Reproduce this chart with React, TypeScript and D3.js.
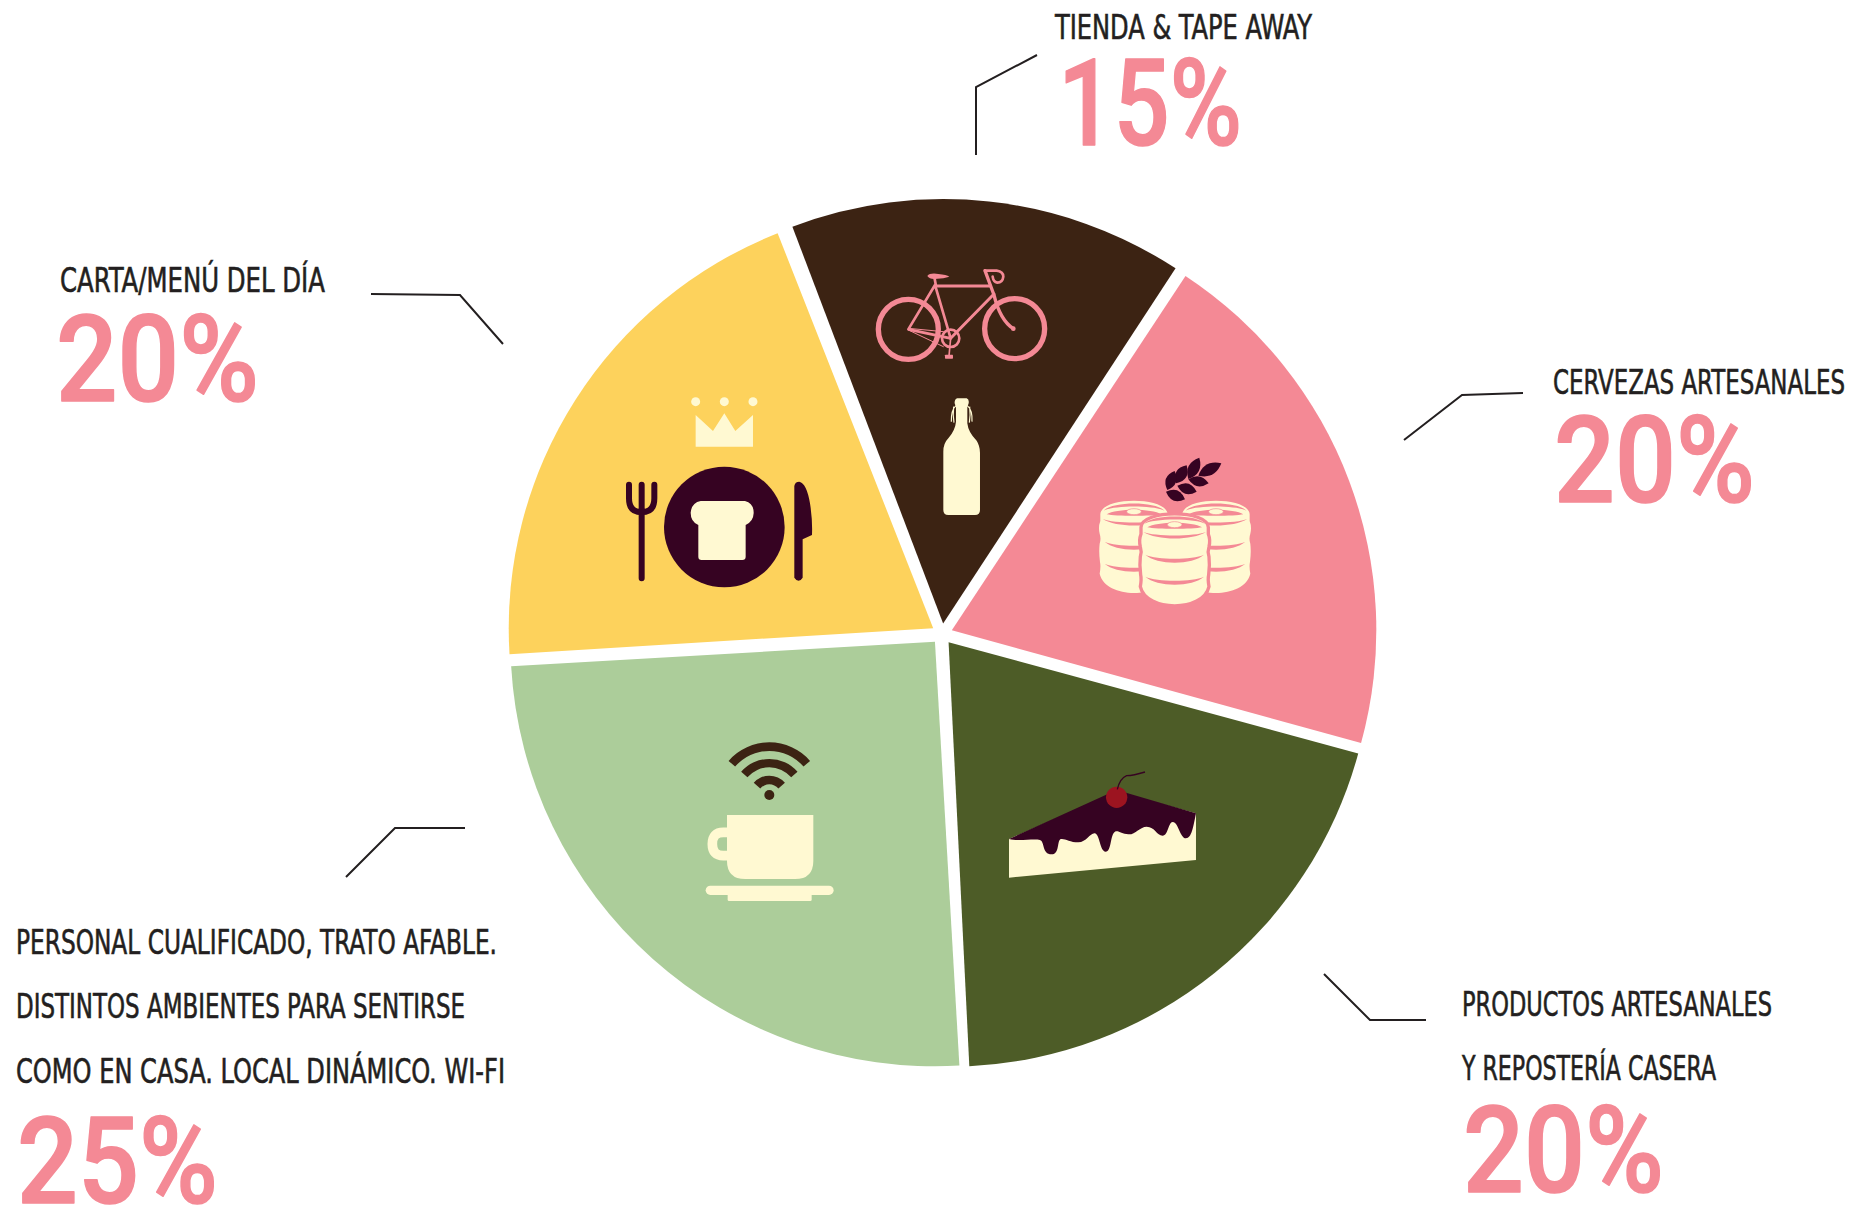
import React from "react";
import * as d3 from "d3";

// Share of what the venue offers, clockwise from the top slice
const sliceNames = ["Tienda", "Cervezas", "Productos", "Personal", "Carta"];
const sliceValues = [15, 20, 20, 25, 20];
const sliceColors = ["#3c2313", "#f48995", "#4d5c27", "#accd9a", "#fdd25c"];

const tiendaLines = ["TIENDA & TAPE AWAY"];
const cervezasLines = ["CERVEZAS ARTESANALES"];
const productosLines = ["PRODUCTOS ARTESANALES", "Y REPOSTERÍA CASERA"];
const personalLines = [
  "PERSONAL CUALIFICADO, TRATO AFABLE.",
  "DISTINTOS AMBIENTES PARA SENTIRSE",
  "COMO EN CASA. LOCAL DINÁMICO. WI-FI",
];
const cartaLines = ["CARTA/MENÚ DEL DÍA"];
const calloutLines = [tiendaLines, cervezasLines, productosLines, personalLines, cartaLines];

const WIDTH = 1852;
const HEIGHT = 1206;
const CX = 942;
const CY = 634;
const RADIUS = 424.5;
const EXPLODE = 10.5;
const START_DEG = -20.8;
// The hand-placed wedges sit a fraction of a degree off the exact layout
const sliceTilt = [0, 0.2, 0, -0.5, -0.7];

const INK = "#231f20";
const PINK = "#f48995";
const CREAM = "#fff9d2";
const PLUM = "#360322";
const BROWN = "#3c2313";
const CHERRY = "#9c1420";

type Callout = {
  x: number;
  baselines: number[];
  widths: number[];
  pctX: number;
  pctBase: number;
  pctWidth: number;
  leader: [number, number][];
};

const callouts: Callout[] = [
  { x: 1055, baselines: [39], widths: [257], pctX: 1058, pctBase: 145, pctWidth: 184, leader: [[1037, 55], [976, 87], [976, 155]] },
  { x: 1553, baselines: [394], widths: [292], pctX: 1554, pctBase: 502, pctWidth: 201, leader: [[1523, 393], [1462, 395], [1404, 440]] },
  { x: 1462, baselines: [1016, 1080], widths: [310, 254], pctX: 1463, pctBase: 1192, pctWidth: 201, leader: [[1324, 974], [1370, 1020], [1426, 1020]] },
  { x: 16, baselines: [954, 1018, 1083], widths: [481, 449, 489], pctX: 17, pctBase: 1203, pctWidth: 201, leader: [[346, 877], [395, 828], [465, 828]] },
  { x: 60, baselines: [292], widths: [265], pctX: 56, pctBase: 401, pctWidth: 203, leader: [[371, 294], [460, 295], [503, 344]] },
];

const leaderPath = d3.line();
const deg = Math.PI / 180;

const pieLayout = d3
  .pie<number>()
  .sort(null)
  .startAngle(START_DEG * deg)
  .endAngle((START_DEG + 360) * deg);
const wedge = d3.arc<d3.PieArcDatum<number>>().innerRadius(0).outerRadius(RADIUS);
const wifiBand = d3.arc();

function Bike() {
  return (
    <g transform="translate(850,230) scale(0.3333)" fill="none" stroke={PINK} strokeLinecap="round" strokeLinejoin="round">
      <circle cx={175} cy={298} r={90} strokeWidth={16} />
      <circle cx={494} cy={296} r={90} strokeWidth={16} />
      <path strokeWidth={8} d="M175,298 L255,165 L302,325 Z" />
      <path strokeWidth={9} d="M258,168 L418,168 M432,192 L302,325" />
      <path strokeWidth={10} d="M405,122 L432,195 Q450,270 490,296" />
      <circle cx={490} cy={296} r={7} fill={PINK} stroke="none" />
      <path strokeWidth={8} d="M405,122 L440,122 Q460,125 460,140 Q458,158 442,158 Q430,156 428,140" />
      <path fill={PINK} stroke="none" d="M232,138 Q240,128 265,132 Q290,134 298,140 Q280,146 262,146 Q240,150 232,138 Z" />
      <path strokeWidth={8} d="M254,146 L258,168" />
      <circle cx={302} cy={325} r={26} strokeWidth={8} />
      <path strokeWidth={3} d="M175,295 L280,305 M175,300 L280,350" />
      <path strokeWidth={5} d="M302,325 L297,378" />
      <rect x={285} y={374} width={24} height={12} rx={2} fill={PINK} stroke="none" />
    </g>
  );
}

function Bottle() {
  return (
    <g transform="translate(850,230) scale(0.3333)">
      <path
        fill="none"
        stroke={CREAM}
        strokeWidth={3.5}
        d="M318,527 Q303,540 304,575 M352,527 Q368,540 366,575 M311,530 Q308,555 312,578 M359,530 Q362,555 358,578"
      />
      <path
        fill={CREAM}
        d="M322,505 L350,505 Q358,508 356,520 L352,532 L352,580 Q355,608 380,632 Q390,648 390,668 L390,840 Q390,855 375,855 L295,855 Q280,855 280,840 L280,665 Q280,640 295,625 Q316,600 318,575 L318,532 L314,520 Q313,508 322,505 Z"
      />
    </g>
  );
}

// A single keg, drawn with the front one's centre at x=344
function Keg({ dx, dy, halo }: { dx: number; dy: number; halo?: boolean }) {
  return (
    <g transform={`translate(${dx},${dy})`}>
      <path
        fill={CREAM}
        stroke={halo ? PINK : "none"}
        strokeWidth={halo ? 10 : 0}
        d="M243,262 C245,208 443,208 445,262 L445,282 Q452,300 447,320 Q442,335 447,350 Q450,375 446,405 Q443,418 447,440 C430,517 258,517 241,440 Q245,418 242,405 Q238,375 241,350 Q246,335 241,320 Q236,300 243,282 Z"
      />
      <path fill={PINK} d="M252,252 C275,222 413,222 436,252 C410,234 278,234 252,252 Z" />
      <path fill={PINK} d="M262,262 C290,244 398,244 426,262 C400,268 288,268 262,262 Z" />
      <ellipse cx={344} cy={254} rx={22} ry={9} fill={CREAM} stroke={PINK} strokeWidth={2} />
      <path fill={PINK} d="M250,276 C290,302 398,302 438,276 C405,290 283,290 250,276 Z" />
      <path fill={PINK} d="M256,344 C290,376 398,376 432,344 C398,360 290,360 256,344 Z" />
      <path fill={PINK} d="M256,410 C290,442 398,442 432,410 C398,426 290,426 256,410 Z" />
    </g>
  );
}

function leaf(x1: number, y1: number, x2: number, y2: number, w: number) {
  const mx = (x1 + x2) / 2;
  const my = (y1 + y2) / 2;
  const dx = x2 - x1;
  const dy = y2 - y1;
  const len = Math.hypot(dx, dy);
  const nx = (-dy / len) * w;
  const ny = (dx / len) * w;
  return `M${x1},${y1} Q${mx + nx},${my + ny} ${x2},${y2} Q${mx - nx},${my - ny} ${x1},${y1} Z`;
}

function Kegs() {
  const leaves = [
    [415, 107, 484, 70, 34],
    [385, 117, 418, 53, 34],
    [348, 130, 380, 76, 34],
    [322, 150, 344, 93, 32],
    [385, 118, 446, 130, 30],
    [352, 137, 410, 155, 32],
    [318, 155, 375, 178, 32],
  ];
  return (
    <g transform="translate(1060,440) scale(0.3333)">
      <Keg dx={-122} dy={-39} />
      <Keg dx={124} dy={-39} />
      <Keg dx={0} dy={0} halo />
      {leaves.map((l, i) => (
        <path key={i} fill={PLUM} d={leaf(l[0], l[1], l[2], l[3], l[4])} />
      ))}
    </g>
  );
}

function CakeSlice() {
  return (
    <g transform="translate(990,760) scale(0.3333)">
      <path fill={CREAM} d="M57,237 L380,95 L618,160 L618,300 L57,353 Z" />
      <path
        fill={PLUM}
        d="M57,237 L380,90 L618,160 C610,200 605,235 588,235 C570,235 565,185 548,186 C535,186 535,227 518,227 C500,227 495,200 470,200 C450,200 435,225 415,223 C395,222 385,210 375,215 C360,225 365,275 347,275 C330,275 330,225 315,220 C300,218 290,247 265,247 C240,247 225,235 213,237 C200,240 210,283 185,283 C155,283 165,245 150,240 C130,235 85,245 57,237 Z"
      />
      <circle cx={380} cy={112} r={32} fill={CHERRY} />
      <path fill="none" stroke={PLUM} strokeWidth={4} d="M382,88 Q390,55 410,47 Q430,47 465,36" />
    </g>
  );
}

function CupAndWifi() {
  const bands = [
    [136, 162],
    [87, 112],
    [36, 62],
  ];
  return (
    <g transform="translate(690,730) scale(0.3333)">
      <g transform="translate(238,199)" fill={BROWN}>
        {bands.map((b, i) => (
          <path
            key={i}
            d={wifiBand({ innerRadius: b[0], outerRadius: b[1], startAngle: -49 * deg, endAngle: 49 * deg }) as string}
          />
        ))}
        <circle cy={-4} r={15} />
      </g>
      <path fill="none" stroke={CREAM} strokeWidth={29} d="M111,307 L100,307 Q67,307 67,342 Q67,377 100,377 L111,377" />
      <path fill={CREAM} d="M111,255 L370,255 L370,392 Q370,447 315,447 L166,447 Q111,447 111,392 Z" />
      <rect x={47} y={467} width={384} height={28} rx={14} fill={CREAM} />
      <rect x={113} y={490} width={252} height={23} rx={4} fill={CREAM} />
    </g>
  );
}

function PlateSetting() {
  return (
    <g transform="translate(610,380) scale(0.3333)">
      {[257, 343, 429].map((x) => (
        <circle key={x} cx={x} cy={65} r={13.5} fill={CREAM} />
      ))}
      <path fill={CREAM} d="M257,105 L309,153 L343,100 L376,153 L429,105 L429,200 L257,200 Z" />
      <circle cx={343} cy={441} r={181} fill={PLUM} />
      <path
        fill={CREAM}
        d="M272,363 L405,363 Q432,370 431,400 Q430,425 407,435 L407,530 Q407,540 397,540 L275,540 Q265,540 265,530 L265,435 Q242,425 242,398 Q245,368 272,363 Z"
      />
      <path
        fill="none"
        stroke={PLUM}
        strokeWidth={18}
        strokeLinecap="round"
        d="M95,314 L95,595 M57,314 L57,355 Q57,397 95,397 Q133,397 133,355 L133,314"
      />
      <path
        fill={PLUM}
        d="M553,318 Q555,305 568,305 Q590,310 600,370 Q608,420 606,465 L578,478 L578,593 Q566,612 553,593 Z"
      />
    </g>
  );
}

export default function App() {
  const arcs = pieLayout(sliceValues);
  const labelFont = "'Liberation Sans Narrow', 'DejaVu Sans Condensed', sans-serif";
  return (
    <svg
      width={WIDTH}
      height={HEIGHT}
      viewBox={`0 0 ${WIDTH} ${HEIGHT}`}
      style={{ position: "absolute", left: 0, top: 0, display: "block", background: "#fff" }}
    >
      <g transform={`translate(${CX},${CY})`}>
        {arcs.map((a, i) => {
          const mid = (a.startAngle + a.endAngle) / 2;
          const ox = Math.sin(mid) * EXPLODE;
          const oy = -Math.cos(mid) * EXPLODE;
          return (
            <path
              key={sliceNames[i]}
              transform={`translate(${ox},${oy}) rotate(${sliceTilt[i]})`}
              d={wedge(a) as string}
              fill={sliceColors[i]}
            />
          );
        })}
      </g>

      <Bike />
      <Bottle />
      <Kegs />
      <CakeSlice />
      <CupAndWifi />
      <PlateSetting />

      {callouts.map((c, i) => (
        <g key={sliceNames[i]}>
          <path d={leaderPath(c.leader) as string} fill="none" stroke={INK} strokeWidth={2} />
          {calloutLines[i].map((line, j) => (
            <text
              key={j}
              x={c.x}
              y={c.baselines[j]}
              textLength={c.widths[j]}
              lengthAdjust="spacingAndGlyphs"
              fontFamily={labelFont}
              fontSize={34}
              fill={INK}
              stroke={INK}
              strokeWidth={0.6}
            >
              {line}
            </text>
          ))}
          <text
            x={c.pctX}
            y={c.pctBase}
            textLength={c.pctWidth}
            lengthAdjust="spacingAndGlyphs"
            fontFamily="Roboto, sans-serif"
            fontWeight={500}
            fontSize={120}
            fill={PINK}
            stroke={PINK}
            strokeWidth={1.5}
            strokeLinejoin="round"
          >
            {`${sliceValues[i]}%`}
          </text>
        </g>
      ))}
    </svg>
  );
}
